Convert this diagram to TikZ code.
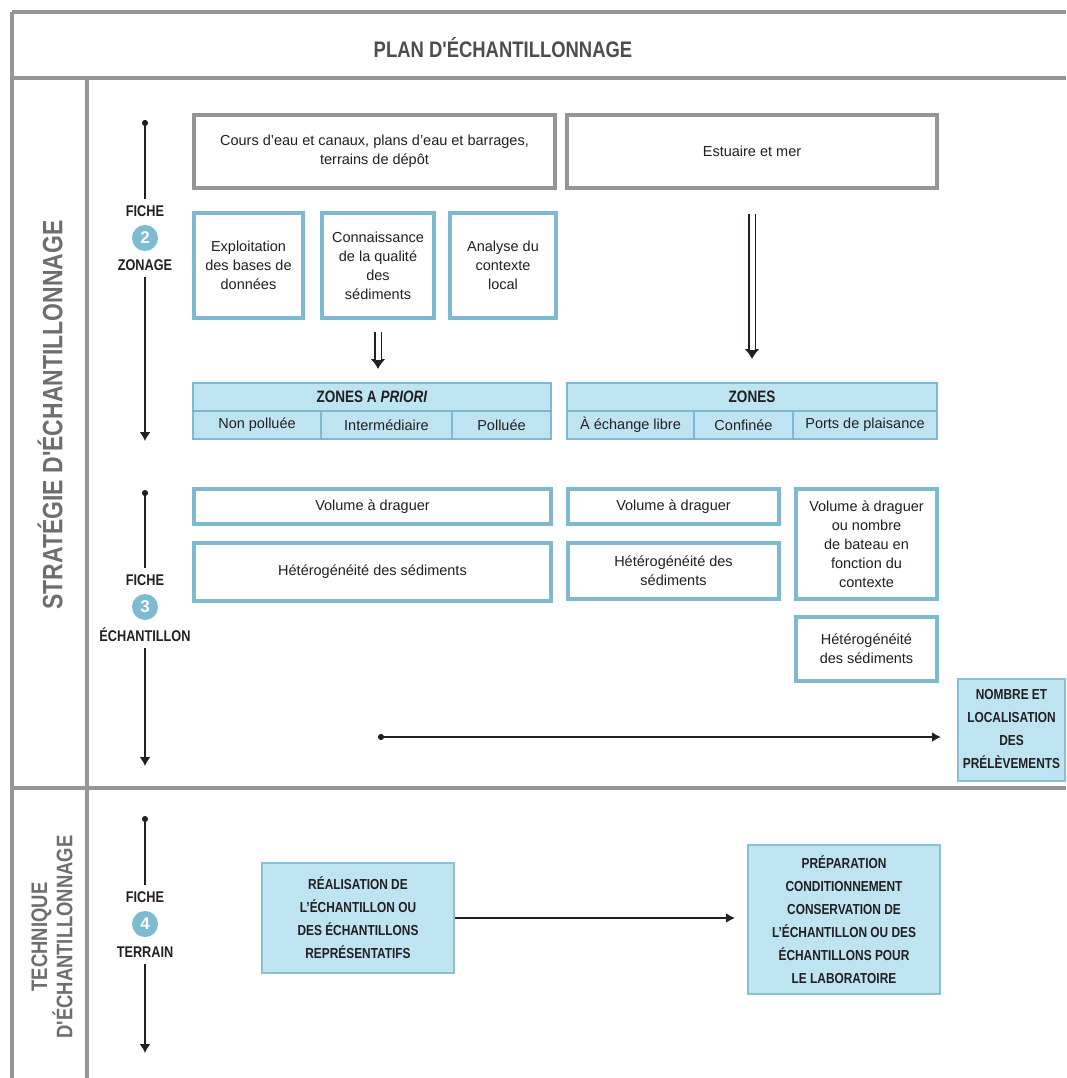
\documentclass[tikz,border=0pt]{standalone}
\usepackage{fontspec}
\setmainfont{Liberation Sans}
\newfontfamily\condfont{Liberation Sans}[FakeStretch=0.82]
\usepackage{tikz}
\usetikzlibrary{arrows.meta,positioning,calc}
\definecolor{frameGray}{RGB}{147,149,152}
\definecolor{boxBlue}{RGB}{125,185,207}
\definecolor{lightBlue}{RGB}{190,228,242}
\definecolor{circBlue}{RGB}{125,187,210}
\definecolor{headGray}{RGB}{77,77,79}
\definecolor{sideGray}{RGB}{109,110,113}
\definecolor{inkDark}{RGB}{35,31,32}
\newcommand{\txtBody}{\fontsize{14.5}{19}\selectfont}
\newcommand{\txtCaps}{\condfont\bfseries\fontsize{14.5}{23}\selectfont}
\tikzset{
    grayBox/.style={
        draw=frameGray,
        line width=4pt,
        fill=white,
        align=center,
        inner sep=2pt,
        font=\txtBody,
        text=inkDark
    },
    blueBox/.style={grayBox, draw=boxBlue},
    zoneHead/.style={
        draw=boxBlue,
        fill=lightBlue,
        line width=2pt,
        minimum height=28pt,
        inner sep=1pt,
        font=\condfont\bfseries\fontsize{16.5}{18}\selectfont,
        text=inkDark
    },
    zoneCell/.style={zoneHead, font=\txtBody},
    lightBox/.style={
        draw=boxBlue!90!white,
        fill=lightBlue,
        line width=2pt,
        align=center,
        inner sep=2pt,
        font=\txtCaps,
        text=inkDark
    },
}

\begin{document}
\begin{tikzpicture}[x=1pt, y=-1pt,
    frameLine/.style={draw=frameGray, line width=4pt},
    ficheLabel/.style={font=\condfont\bfseries\fontsize{15.5}{17}\selectfont, text=inkDark, inner sep=2pt},
    ficheNum/.style={circle, fill=circBlue, minimum size=26pt, inner sep=0pt, text=white, font=\bfseries\fontsize{17}{17}\selectfont},
    timeLine/.style={line width=1.5pt, draw=inkDark},
    dblLine/.style={draw=inkDark, double=white, double distance=5pt, line width=1.5pt},
    dblTip/.style={draw=inkDark, line width=1.5pt, -{Latex[length=10pt,width=15pt]}},
    flowArrow/.style={line width=2pt, draw=inkDark, -{Latex[length=9pt,width=10pt]}}
]
    \useasboundingbox (0,0) rectangle (1066,1078);

    % Frame
    \draw[frameLine] (12,12) -- (1066,12);
    \draw[frameLine] (12,12) -- (12,1078);
    \draw[frameLine] (12,78) -- (1066,78);
    \draw[frameLine] (87,78) -- (87,1078);
    \draw[frameLine] (12,788) -- (1066,788);

    \node[font=\condfont\bfseries\fontsize{22.5}{24}\selectfont, text=headGray] (title) at (503,48) {PLAN D'ÉCHANTILLONNAGE};
    \node[rotate=90, font=\condfont\bfseries\fontsize{28}{30}\selectfont, text=sideGray] (strat) at (50,415) {STRATÉGIE D'ÉCHANTILLONNAGE};
    \node[rotate=90, align=center, font=\condfont\bfseries\fontsize{22.5}{23}\selectfont, text=sideGray] (tech) at (52,937) {TECHNIQUE\\D'ÉCHANTILLONNAGE};

    % Fiche 2 - zonage
    \coordinate (t2a) at (145,120);
    \coordinate (t2b) at (145,441);
    \node[ficheLabel] (f2) at (145,211) {FICHE};
    \node[ficheNum] (n2) at (145,238) {2};
    \node[ficheLabel] (z2) at (145,265) {ZONAGE};
    \draw[timeLine, {Circle[length=6pt]}-, shorten >=4pt] (t2a) -- (f2.north);
    \draw[timeLine, -{Latex[length=9pt,width=11pt]}, shorten <=4pt] (z2.south) -- (t2b);

    \node[grayBox, minimum width=361pt, minimum height=73pt] (cours) at (374.5,151.5) {Cours d'eau et canaux, plans d'eau et barrages,\\terrains de dépôt};
    \node[grayBox, minimum width=370pt, minimum height=73pt] (estu) at (752,151.5) {Estuaire et mer};

    \node[blueBox, minimum width=109pt, minimum height=105pt] (expl) at (248.5,265.5) {Exploitation\\des bases de\\données};
    \node[blueBox, minimum width=112pt, minimum height=105pt] (conn) at (378,265.5) {Connaissance\\de la qualité\\des\\sédiments};
    \node[blueBox, minimum width=106pt, minimum height=105pt] (anal) at (503,265.5) {Analyse du\\contexte\\local};

    % Zones tables
    \node[zoneHead, minimum width=358pt] (zl) at (372,397) {ZONES A \textit{PRIORI}};
    \node[zoneCell, minimum width=128pt] (zl1) at (257,425) {Non polluée};
    \node[zoneCell, minimum width=131pt] (zl2) at (386.5,425) {Intermédiaire};
    \node[zoneCell, minimum width=99pt] (zl3) at (501.5,425) {Polluée};

    \node[zoneHead, minimum width=370pt] (zr) at (752,397) {ZONES};
    \node[zoneCell, minimum width=127pt] (zr1) at (630.5,425) {À échange libre};
    \node[zoneCell, minimum width=99pt] (zr2) at (743.5,425) {Confinée};
    \node[zoneCell, minimum width=144pt] (zr3) at (865,425) {Ports de plaisance};

    % double arrows: tip first, double line on top
    \draw[dblTip, shorten <=28pt, shorten >=13pt] (conn.south) -- (conn |- zl.north);
    \draw[dblLine, shorten <=12pt, shorten >=22pt] (conn.south) -- (conn |- zl.north);
    \draw[dblTip, shorten <=140pt, shorten >=23pt] (estu.south) -- (estu |- zr.north);
    \draw[dblLine, shorten <=24pt, shorten >=32pt] (estu.south) -- (estu |- zr.north);

    % Fiche 3 - echantillon
    \coordinate (t3a) at (145,490);
    \coordinate (t3b) at (145,766);
    \node[ficheLabel] (f3) at (145,580) {FICHE};
    \node[ficheNum] (n3) at (145,607) {3};
    \node[ficheLabel] (z3) at (145,635) {ÉCHANTILLON};
    \draw[timeLine, {Circle[length=6pt]}-, shorten >=4pt] (t3a) -- (f3.north);
    \draw[timeLine, -{Latex[length=9pt,width=11pt]}, shorten <=4pt] (z3.south) -- (t3b);

    \node[blueBox, minimum width=357pt, minimum height=35pt] (vol1) at (372.5,506.5) {Volume à draguer};
    \node[blueBox, minimum width=357pt, minimum height=58pt] (het1) at (372.5,572) {Hétérogénéité des sédiments};
    \node[blueBox, minimum width=211pt, minimum height=35pt] (vol2) at (673.5,506.5) {Volume à draguer};
    \node[blueBox, minimum width=211pt, minimum height=56pt] (het2) at (673.5,571) {Hétérogénéité des\\sédiments};
    \node[blueBox, minimum width=141pt, minimum height=110pt] (vol3) at (866.5,544) {Volume à draguer\\ou nombre\\de bateau en\\fonction du\\contexte};
    \node[blueBox, minimum width=141pt, minimum height=64pt] (het3) at (866.5,649) {Hétérogénéité\\des sédiments};

    \node[lightBox, minimum width=107pt, minimum height=102pt] (nombre) at (1011.5,729.5) {NOMBRE ET\\LOCALISATION\\DES\\PRÉLÈVEMENTS};
    \coordinate (p3) at (378,737);
    \draw[flowArrow, {Circle[length=6pt]}-{Latex[length=9pt,width=10pt]}, shorten >=16pt] (p3) -- (p3 -| nombre.west);

    % Fiche 4 - terrain
    \coordinate (t4a) at (145,816);
    \coordinate (t4b) at (145,1053);
    \node[ficheLabel] (f4) at (145,897) {FICHE};
    \node[ficheNum] (n4) at (145,924) {4};
    \node[ficheLabel] (z4) at (145,952) {TERRAIN};
    \draw[timeLine, {Circle[length=6pt]}-, shorten >=4pt] (t4a) -- (f4.north);
    \draw[timeLine, -{Latex[length=9pt,width=11pt]}, shorten <=4pt] (z4.south) -- (t4b);

    \node[lightBox, minimum width=192pt, minimum height=110pt] (real) at (358,918) {RÉALISATION DE\\L’ÉCHANTILLON OU\\DES ÉCHANTILLONS\\REPRÉSENTATIFS};
    \node[lightBox, minimum width=192pt, minimum height=149pt] (prep) at (844,919.5) {PRÉPARATION\\CONDITIONNEMENT\\CONSERVATION DE\\L’ÉCHANTILLON OU DES\\ÉCHANTILLONS POUR\\LE LABORATOIRE};
    \draw[flowArrow, shorten >=12pt] (real.east) -- (real.east -| prep.west);

\end{tikzpicture}
\end{document}
